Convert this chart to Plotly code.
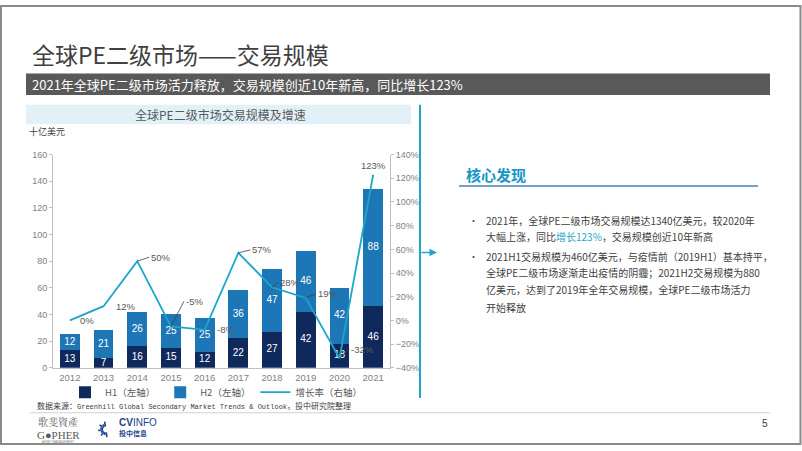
import plotly.graph_objects as go
import math

years = ["2012", "2013", "2014", "2015", "2016", "2017", "2018", "2019", "2020", "2021"]
h1 = [13, 7, 16, 15, 12, 22, 27, 42, 18, 46]
h2 = [12, 21, 26, 25, 25, 36, 47, 46, 42, 88]
growth = [0, 12, 50, -5, -8, 57, 28, 19, -32, 123]
growth_labels = ["0%", "12%", "50%", "-5%", "-8%", "57%", "28%", "19%", "-32%", "123%"]

W, H = 802, 451
def X(px):
    return px / W
def Y(py):
    return 1 - py / H

C_H1 = "#10295d"
C_H2 = "#1d76b6"
C_LINE = "#1ea5ca"
C_AX = "#bfbfbf"
C_TICK = "#7f7f7f"
LAT = "Liberation Sans, Noto Sans CJK SC, sans-serif"
CJK = "Noto Sans CJK SC, Liberation Sans, sans-serif"

fig = go.Figure()
fig.add_trace(go.Bar(x=years, y=h1, name="H1（左轴）", marker=dict(color=C_H1, line=dict(width=0))))
fig.add_trace(go.Bar(x=years, y=h2, name="H2（左轴）", marker=dict(color=C_H2, line=dict(width=0))))
fig.add_trace(go.Scatter(x=years, y=growth, yaxis="y2", mode="lines", name="增长率（右轴）",
                         line=dict(color=C_LINE, width=1.8)))
# bar value labels drawn on top of all bars
fig.add_trace(go.Scatter(x=years, y=[a / 2 for a in h1], mode="text", text=[str(v) for v in h1],
                         textposition="middle center", showlegend=False, hoverinfo="skip",
                         textfont=dict(color="white", size=10, family=LAT)))
fig.add_trace(go.Scatter(x=years, y=[a + b / 2 for a, b in zip(h1, h2)], mode="text",
                         text=[str(v) for v in h2], textposition="middle center", showlegend=False,
                         hoverinfo="skip", textfont=dict(color="white", size=10, family=LAT)))

# growth labels: (ax, ay, leader)
label_pos = [(8, 0, False), (10, 0, False), (12, -4, True), (13, -25, True), (10, 0, False),
             (12, -3, True), (6, -5, True), (10, -4, True), (10, -9, True), (0, -10, False)]
annotations = []
PF = dict(size=9.5, color="#595959", family=LAT)
for i, (g, lab) in enumerate(zip(growth, growth_labels)):
    ax, ay, leader = label_pos[i]
    if leader:
        annotations.append(dict(x=i, y=g, xref="x", yref="y2", text=lab, showarrow=True,
                                arrowhead=0, arrowwidth=0.8, arrowcolor="#404040", ax=ax, ay=ay,
                                xanchor="left", yanchor="middle", standoff=0, font=PF))
    elif i == len(growth) - 1:
        annotations.append(dict(x=i, y=g, xref="x", yref="y2", text=lab, showarrow=False,
                                xanchor="center", yanchor="bottom", yshift=2, font=PF))
    else:
        annotations.append(dict(x=i, y=g, xref="x", yref="y2", text=lab, showarrow=False,
                                xanchor="left", yanchor="middle", xshift=ax, yshift=-ay, font=PF))

def txt(px, py, text, size, color="#404040", anchor="left", family=CJK, yanchor="middle"):
    annotations.append(dict(x=X(px), y=Y(py), xref="paper", yref="paper", text=text,
                            showarrow=False, xanchor=anchor, yanchor=yanchor,
                            font=dict(size=size, color=color, family=family)))

# Title and banner
txt(30, 50, "全球PE二级市场——交易规模", 23, "#404040")
txt(30, 81, "2021年全球PE二级市场活力释放，交易规模创近10年新高，同比增长123%", 13, "white")
txt(220, 112, "全球PE二级市场交易规模及增速", 12, "#595959", anchor="center")
txt(27, 129, "十亿美元", 9, "#404040")

# source
txt(35, 410, "数据来源：<span style='font-family:Liberation Mono;font-size:7px'>Greenhill Global Secondary Market Trends &amp; Outlook</span>，投中研究院整理",
    8, "#404040")

# key findings
txt(464, 173, "<b>核心发现</b>", 15, "#1596c4")
lines = [
    "2021年，全球PE二级市场交易规模达1340亿美元，较2020年",
    "大幅上涨，同比<span style='color:#1ea5ca'>增长123%</span>，交易规模创近10年新高",
    "2021H1交易规模为460亿美元，与疫情前（2019H1）基本持平，",
    "全球PE二级市场逐渐走出疫情的阴霾；2021H2交易规模为880",
    "亿美元，达到了2019年全年交易规模，全球PE二级市场活力",
    "开始释放",
]
ys = [220, 237, 257, 274, 291, 309]
for l, yy in zip(lines, ys):
    txt(484, yy, l, 10, "#404040")
txt(467, 220, "•", 9, "#404040")
txt(467, 257, "•", 9, "#404040")

# page number
txt(765, 428, "5", 10, "#404040", anchor="center", family=LAT)

# logos (text approximations)
txt(58, 426, "歌斐資產", 10, "#595959", anchor="center", family="Noto Serif CJK SC, Noto Sans CJK SC, serif")
txt(58, 440, "G●PHER", 11, "#595959", anchor="center", family="Liberation Serif, serif")
txt(58, 447, "ASSET MANAGEMENT", 3, "#7f7f7f", anchor="center", family=LAT)
txt(117, 427, "<b>CV</b>INFO", 10, "#1f3f8f", anchor="left", family=LAT)
txt(117, 438, "<b>投中信息</b>", 7, "#1f3f8f", anchor="left")

# arrow on right of chart
annotations.append(dict(x=X(437), y=Y(253), xref="paper", yref="paper", ax=-17, ay=0, text="",
                        showarrow=True, arrowhead=2, arrowsize=1, arrowwidth=1.5, arrowcolor=C_LINE))

shapes = [
    dict(type="rect", xref="paper", yref="paper", x0=X(1), x1=X(800.5), y0=Y(449), y1=Y(1),
         line=dict(color="#8a8a8a", width=2), fillcolor="rgba(0,0,0,0)", layer="below"),
    dict(type="rect", xref="paper", yref="paper", x0=X(26), x1=X(770), y0=Y(92), y1=Y(70),
         line=dict(width=0), fillcolor="#595959", layer="below"),
    dict(type="rect", xref="paper", yref="paper", x0=X(26), x1=X(411), y0=Y(122), y1=Y(102),
         line=dict(width=0), fillcolor="#e2f1f8", layer="below"),
    dict(type="line", xref="paper", yref="paper", x0=X(420), x1=X(420), y0=Y(402), y1=Y(102),
         line=dict(color=C_LINE, width=2)),
    dict(type="line", xref="paper", yref="paper", x0=X(459), x1=X(758), y0=Y(185), y1=Y(185),
         line=dict(color="#4a7fb5", width=1.5)),
    dict(type="line", xref="paper", yref="paper", x0=X(30), x1=X(770), y0=Y(417), y1=Y(417),
         line=dict(color="#d0d0d0", width=1)),
]
# starburst icon approximation
cx, cy = 106, 434
for k in range(9):
    ang = math.radians(100 + k * 22)
    r0, r1 = 3, (8 if k % 2 == 0 else 6)
    shapes.append(dict(type="line", xref="paper", yref="paper",
                       x0=X(cx + r0 * math.cos(ang)), y0=Y(cy - r0 * math.sin(ang)),
                       x1=X(cx + r1 * math.cos(ang)), y1=Y(cy - r1 * math.sin(ang)),
                       line=dict(color="#1f3f8f", width=1.6)))

fig.update_layout(
    width=W, height=H, margin=dict(l=0, r=0, t=0, b=0),
    paper_bgcolor="white", plot_bgcolor="white",
    barmode="stack", bargap=0.41,
    font=dict(family=LAT, color="#595959"),
    showlegend=True,
    legend=dict(orientation="h", x=X(216), xanchor="center", y=Y(396), yanchor="middle",
                font=dict(size=9.5, color="#595959", family=CJK), traceorder="normal",
                itemwidth=30, bgcolor="rgba(0,0,0,0)", tracegroupgap=0),
    xaxis=dict(domain=[X(53), X(390)], type="category", range=[-0.5, 9.5], autorange=False,
               showline=True, linecolor=C_AX, ticklabelstandoff=1,
               ticks="", tickfont=dict(size=9.5, color=C_TICK), showgrid=False),
    yaxis=dict(domain=[Y(371), Y(153)], range=[0, 160], autorange=False, dtick=20, showline=True,
               linecolor=C_AX, ticks="outside", ticklen=3, tickcolor=C_AX, showgrid=False,
               zeroline=False, tickfont=dict(size=9, color=C_TICK)),
    yaxis2=dict(overlaying="y", side="right", anchor="x", range=[-40, 140], autorange=False, dtick=20,
                ticksuffix="%", showline=True, linecolor=C_AX, ticks="outside", ticklen=3,
                tickcolor=C_AX, showgrid=False, zeroline=False,
                tickfont=dict(size=9, color=C_TICK)),
    annotations=annotations,
    shapes=shapes,
)

fig.write_html("out.html", config={"displayModeBar": False},
               post_script="document.body.style.margin='0';document.body.style.overflow='hidden';")
